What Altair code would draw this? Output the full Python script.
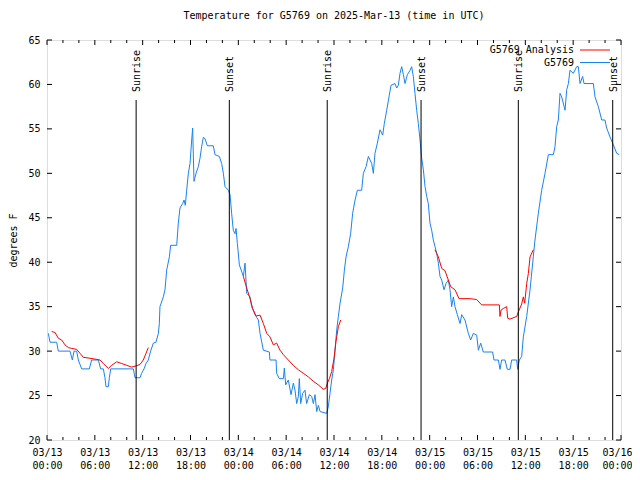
import altair as alt
import pandas as pd

# ---------------- data (hours since 2025-03-13 00:00 UTC, temperature in F) -------------
blue_hours = [0.17, 0.38, 1.21, 1.42, 2.885, 3.18, 3.39, 3.72, 3.93, 4.35, 5.31, 5.6, 6.44, 6.73,
              7.07, 7.27, 7.4, 7.69, 7.82, 7.99, 10.83, 11.04, 11.67, 11.87, 12.17, 12.42, 12.71,
              13.0, 13.34, 13.67, 13.97, 14.09, 14.17, 14.59, 14.8, 15.01, 15.35, 15.51, 16.27,
              16.47, 16.68, 17.02, 17.19, 17.35, 17.52, 17.73, 17.94, 18.15, 18.27, 18.44, 18.69,
              18.98, 19.19, 19.4, 19.61, 19.82, 20.11, 20.86, 21.07, 21.62, 21.91, 22.12, 22.33,
              22.75, 22.96, 23.16, 23.37, 23.58, 23.71, 23.88, 24.13,
              24.63, 24.84, 25.05, 25.47, 25.67, 26.09, 26.51, 26.72, 27.14, 27.89, 27.97, 28.73,
              28.81, 29.14, 29.65, 29.77, 29.94, 30.27, 30.61, 30.9, 31.11, 31.32, 31.53, 31.65,
              31.82, 32.07, 32.36, 32.57, 32.91, 33.2, 33.41, 33.62, 33.83, 34.04, 34.25, 35.08,
              35.29, 35.5, 35.71, 35.92, 36.13, 36.34, 36.55, 36.76, 37.09, 37.3, 37.51, 37.8,
              38.09, 38.34, 38.64, 38.93, 39.47, 39.68, 40.02, 40.31, 40.73, 40.94, 41.14, 41.44,
              41.77, 42.11, 42.31, 42.61, 42.94, 43.15, 43.65, 43.86, 44.07, 44.28, 44.49, 44.7,
              44.91, 45.2, 45.55, 45.74, 45.95, 46.16, 46.37, 46.58, 46.79,
              47.0, 47.21, 47.42, 47.63, 47.83, 48.04, 48.25, 48.46, 48.67, 48.88, 49.09, 49.3,
              49.51, 49.8, 50.05, 50.34, 50.55, 50.76, 50.97, 51.18, 51.47, 51.81, 52.02, 52.43,
              52.85, 53.14, 53.48, 53.9, 54.11, 54.4, 54.73, 55.9, 56.07, 56.62, 56.82, 57.03,
              57.45, 57.74, 58.08, 58.29, 58.915, 59.04, 59.25, 59.54, 59.75, 60.17, 60.59, 61.0,
              61.21, 61.63, 62.05, 62.47, 62.89, 63.51, 63.72, 63.93, 64.14, 64.35, 64.56, 64.98,
              65.19, 65.4, 65.6, 66.02, 66.44, 66.65, 66.86, 67.19, 67.36, 68.53, 68.74, 69.16,
              69.58, 69.99, 70.2, 70.62, 71.04, 71.46, 71.79]
blue_temps = [32.0, 31.0, 31.0, 30.0, 30.0, 29.0, 30.0, 30.0, 29.0, 28.0, 28.0, 29.0, 29.0, 28.0,
              28.0, 27.0, 26.0, 26.0, 27.0, 28.0, 28.0, 27.0, 27.0, 27.5, 28.0, 28.6, 29.0,
              30.0, 30.9, 31.0, 32.0, 33.1, 35.0, 36.1, 36.9, 39.1, 40.6, 41.9, 41.9,
              44.4, 46.1, 46.6, 47.0, 46.4, 48.1, 50.0, 51.1, 53.75, 55.1, 49.1, 50.0,
              50.75, 51.7, 53.0, 54.05, 53.9, 53.1, 53.1, 52.1, 51.9, 51.1, 50.0, 48.5,
              48.1, 47.6, 45.5, 43.6, 43.2, 43.8, 42.1, 39.7,
              38.4, 39.9, 36.5, 36.1, 35.0, 34.1, 33.5, 32.0, 30.1, 29.9, 29.0, 29.0,
              27.5, 26.9, 26.9, 28.1, 26.2, 26.75, 25.1, 26.4, 25.6, 24.1, 24.9, 26.9,
              24.1, 25.25, 25.6, 24.1, 25.1, 24.9, 24.1, 25.1, 23.2, 23.9, 23.2, 23.0,
              23.75, 25.25, 26.75, 27.9, 30.1, 32.4, 33.9, 35.4, 37.1, 39.1, 40.6, 41.75,
              43.25, 45.5, 47.0, 48.1, 48.1, 50.0, 50.75, 51.9, 51.1, 50.0, 52.25, 53.4,
              54.9, 54.3, 55.6, 57.1, 58.8, 59.9, 60.1, 59.6, 59.9, 61.25, 62.0, 61.1,
              60.1, 61.1, 61.6, 62.0, 60.9, 59.0, 57.1, 55.6, 53.75,
              51.7, 50.4, 48.5, 47.4, 46.6, 44.4, 43.6, 42.5, 41.75, 41.0, 39.9, 38.4,
              38.0, 36.9, 37.6, 38.0, 36.9, 35.0, 36.1, 35.0, 34.1, 33.1, 34.1, 33.5,
              32.0, 31.25, 32.0, 31.8, 30.1, 30.9, 29.9, 29.9, 29.0, 29.0, 27.95, 29.0,
              29.0, 27.95, 27.95, 29.0, 29.0, 27.95, 29.0, 29.4, 31.6, 33.9, 36.9, 40.6,
              42.5, 45.5, 48.1, 50.0, 52.1, 52.1, 53.0, 55.25, 56.0, 59.0, 58.6, 57.1,
              59.4, 60.1, 61.6, 61.25, 62.0, 62.0, 60.1, 60.9, 60.1, 60.1, 58.6, 57.5,
              56.0, 56.0, 55.1, 54.1, 53.2, 52.25, 52.1]

red_hours = [0.585, 1.0, 1.42, 1.84, 2.26, 2.68, 3.09, 3.72, 4.14, 4.56, 5.39, 6.02, 6.65, 7.07,
             7.69, 8.11, 8.74, 9.37, 10.0, 10.62, 11.04, 11.67, 12.08, 12.42, 12.71,
             24.63, 25.05, 25.47, 25.8, 26.22, 26.72, 27.14, 27.56, 27.97, 28.39, 28.81, 29.23,
             29.65, 30.27, 30.9, 31.53, 32.16, 32.78, 33.41, 34.04, 34.66, 34.96, 35.17, 35.42,
             35.71, 36.0, 36.25, 36.55, 36.84,
             48.67, 49.09, 49.51, 49.92, 50.34, 50.64, 51.18, 51.68, 53.06, 53.9, 54.52, 56.74,
             56.82, 56.95, 57.24, 57.66, 57.79, 58.08, 58.915, 59.12, 59.54, 59.75, 59.92, 60.17,
             60.38, 60.59, 61.0]
red_temps = [32.2, 32.1, 31.45, 31.25, 30.7, 30.4, 30.3, 30.2, 29.75, 29.3, 29.2, 29.1, 29.0, 28.6,
             28.05, 28.4, 28.8, 28.6, 28.4, 28.2, 28.3, 28.5, 29.0, 29.75, 30.4,
             38.4, 37.1, 35.9, 34.8, 33.95, 34.05, 33.1, 32.0, 31.6, 30.7, 30.9, 30.1,
             29.6, 29.0, 28.4, 27.9, 27.5, 27.1, 26.6, 26.2, 25.7, 25.8, 26.4, 26.9,
             27.7, 29.2, 31.1, 32.75, 33.5,
             41.4, 40.6, 39.3, 39.05, 38.0, 37.25, 36.9, 35.9, 35.9, 35.8, 35.2, 35.2,
             33.9, 34.6, 34.8, 35.0, 33.7, 33.6, 33.9, 34.4, 35.3, 36.1, 35.4, 37.6,
             38.75, 40.6, 41.4]
red_segments = [1] * 25 + [2] * 29 + [3] * 27

sun_labels = ["Sunrise", "Sunset", "Sunrise", "Sunset", "Sunrise", "Sunset"]
sun_hours = [11.18, 22.87, 35.15, 46.92, 59.12, 70.96]

y_ticks = [20, 25, 30, 35, 40, 45, 50, 55, 60, 65]
x_major_hours = list(range(0, 73, 6))
x_minor_hours = [h for h in range(0, 73, 2) if h % 6 != 0]

legend_labels = ["G5769 Analysis", "G5769"]
RED = "#ff0000"
BLUE = "#1884f0"
FONT = "DejaVu Sans Mono"

# ---------------- helpers -------------
BASE = pd.Timestamp("2025-03-13T00:00:00Z")


def to_iso(hours):
    return [(BASE + pd.Timedelta(hours=h)).strftime("%Y-%m-%dT%H:%M:%SZ") for h in hours]


def dt(h):
    ts = BASE + pd.Timedelta(hours=h)
    return alt.DateTime(year=ts.year, month=ts.month, date=ts.day, hours=ts.hour, utc=True)


blue_df = pd.DataFrame({"time": to_iso(blue_hours), "temp": blue_temps})
red_df = pd.DataFrame({"time": to_iso(red_hours), "temp": red_temps, "seg": red_segments})
sun_df = pd.DataFrame({"time": to_iso(sun_hours), "label": sun_labels})
major_df = pd.DataFrame({"time": to_iso(x_major_hours)})
minor_df = pd.DataFrame({"time": to_iso(x_minor_hours)})
ytick_df = pd.DataFrame({"temp": y_ticks})

W, H = 574, 400

xscale = alt.Scale(type="utc", domain=[dt(0), dt(72)])
yscale = alt.Scale(domain=[20, 65], nice=False, zero=False)

x_axis = alt.Axis(
    values=[dt(h) for h in x_major_hours],
    labelExpr="[utcFormat(datum.value, '%m/%d'), utcFormat(datum.value, '%H:%M')]",
    ticks=False, domain=False, grid=False, title=None,
    labelFont=FONT, labelFontSize=10, labelColor="black",
    labelPadding=7, labelLineHeight=13.5, labelBaseline="top", labelFlush=False,
    labelOverlap=False,
    labelOffset={"condition": {"test": "utcFormat(datum.value, '%d') == '16'", "value": -4},
                 "value": 0},
)
y_axis = alt.Axis(
    values=y_ticks, ticks=False, domain=False, grid=False,
    title="degrees F", titleFont=FONT, titleFontSize=10, titleFontWeight="normal",
    titleColor="black", titlePadding=9,
    labelFont=FONT, labelFontSize=10, labelColor="black", labelPadding=7,
)

X = alt.X("time:T", scale=xscale, axis=x_axis)
Y = alt.Y("temp:Q", scale=yscale, axis=y_axis)

blue = alt.Chart(blue_df).mark_line(color=BLUE, strokeWidth=1, clip=True).encode(x=X, y=Y)
red = alt.Chart(red_df).mark_line(color=RED, strokeWidth=1, clip=True).encode(
    x=X, y=Y, detail="seg:N")

sun_rules = alt.Chart(sun_df).mark_rule(color="black", strokeWidth=1).encode(
    x=X, y=alt.value(60), y2=alt.value(H))
sun_text = alt.Chart(sun_df).mark_text(
    angle=270, align="left", baseline="middle", font=FONT, fontSize=10, color="black", dy=1
).encode(x=X, y=alt.value(52), text="label:N")

maj_bot = alt.Chart(major_df).mark_rule(color="black").encode(
    x=X, y=alt.value(H), y2=alt.value(H - 5))
maj_top = alt.Chart(major_df).mark_rule(color="black").encode(
    x=X, y=alt.value(0), y2=alt.value(5))
min_bot = alt.Chart(minor_df).mark_rule(color="black").encode(
    x=X, y=alt.value(H), y2=alt.value(H - 3))
min_top = alt.Chart(minor_df).mark_rule(color="black").encode(
    x=X, y=alt.value(0), y2=alt.value(3))
y_left = alt.Chart(ytick_df).mark_rule(color="black").encode(
    y=Y, x=alt.value(0), x2=alt.value(5))
y_right = alt.Chart(ytick_df).mark_rule(color="black").encode(
    y=Y, x=alt.value(W), x2=alt.value(W - 5))

one = alt.Data(values=[{"k": 1}])
leg_layers = []
for i, (lab, col) in enumerate(zip(legend_labels, [RED, BLUE])):
    ly = 10 + 12.5 * i
    leg_layers.append(
        alt.Chart(one).mark_text(align="right", baseline="middle", font=FONT, fontSize=10,
                                 color="black").encode(
            x=alt.value(527), y=alt.value(ly), text=alt.value(lab)))
    leg_layers.append(
        alt.Chart(one).mark_rule(color=col, strokeWidth=1).encode(
            x=alt.value(533), x2=alt.value(563), y=alt.value(ly)))

chart = alt.layer(
    blue, red, sun_rules, sun_text, maj_bot, maj_top, min_bot, min_top, y_left, y_right,
    *leg_layers
).properties(
    width=W, height=H,
    title=alt.TitleParams("Temperature for G5769 on 2025-Mar-13 (time in UTC)",
                          font=FONT, fontSize=10, fontWeight="normal", color="black",
                          offset=14, anchor="middle"),
    padding={"left": 39, "top": 32, "right": 11, "bottom": 30},
    autosize=alt.AutoSizeParams(type="none"),
).configure_view(stroke="black", strokeWidth=1).configure(background="white")

chart.save("out.html", embed_options={"renderer": "svg", "actions": False})
